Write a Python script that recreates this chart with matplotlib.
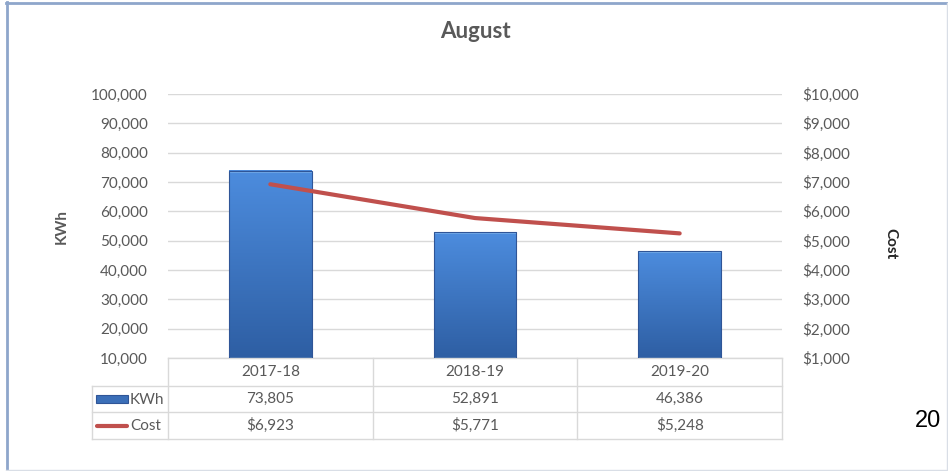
import numpy as np
import matplotlib.pyplot as plt
from matplotlib.patches import Rectangle
from matplotlib.lines import Line2D
from matplotlib.transforms import blended_transform_factory

# data
years = ["2017-18", "2018-19", "2019-20"]
kwh = [73805, 52891, 46386]
cost = [6923, 5771, 5248]

plt.rcParams['font.family'] = ['Lato', 'DejaVu Sans']
grey = "#595959"
grid_c = "#D9D9D9"
fs = 11

W, H = 948, 471
fig = plt.figure(figsize=(W / 100, H / 100), dpi=100)

def fx(px):
    return px / W

def fy(py):
    return 1 - py / H

ax = fig.add_axes([fx(168), fy(358), fx(782) - fx(168), fy(94) - fy(358)])
x = np.arange(len(years))
ax.set_xlim(-0.5, 2.5)
ax.set_ylim(10000, 100000)
ymin = ax.get_ylim()[0]

# bars with a vertical gradient
bars = ax.bar(x, kwh, width=0.405, facecolor="none", edgecolor="#2F5597",
              linewidth=0.8, zorder=3)
grad = np.linspace(0, 1, 100).reshape(-1, 1)
top_c = np.array([0.30, 0.55, 0.87])
bot_c = np.array([0.18, 0.37, 0.64])
img = (top_c * (1 - grad) + bot_c * grad).reshape(100, 1, 3)
for b in bars:
    x0 = b.get_x()
    x1 = x0 + b.get_width()
    ax.imshow(img, extent=[x0, x1, ymin, b.get_height()], origin="upper",
              aspect="auto", zorder=2)
    # light bevel at the top
    ax.add_patch(Rectangle((x0, b.get_height() - 700), b.get_width(), 700,
                           facecolor="#6FA8E8", edgecolor="none", zorder=2.5))

ax.set_xlim(-0.5, 2.5)
ax.set_ylim(10000, 100000)
ax.set_yticks(np.arange(10000, 100001, 10000))
ax.set_yticklabels([f"{v:,}" for v in range(10000, 100001, 10000)])
ax.set_xticks([])
ax.grid(axis="y", color=grid_c, linewidth=1, zorder=0)
ax.tick_params(axis="y", length=0, pad=14.5, labelsize=fs, labelcolor=grey)
for s in ax.spines.values():
    s.set_visible(False)

ax2 = ax.twinx()
ax2.plot(x, cost, color="#C0504D", linewidth=3, solid_capstyle="round", zorder=4)
ax2.set_ylim(1000, 10000)
ax2.set_yticks(np.arange(1000, 10001, 1000))
ax2.set_yticklabels([f"${v:,}" for v in range(1000, 10001, 1000)])
ax2.tick_params(axis="y", length=0, pad=14.5, labelsize=fs, labelcolor=grey)
for s in ax2.spines.values():
    s.set_visible(False)
ax2.set_xlim(-0.5, 2.5)

# data table under the plot
tr = blended_transform_factory(ax.transData, ax.transAxes)
ah = 358 - 94
rows_y = [0, -28 / ah, -54 / ah, -81 / ah]
lab_left = -0.5 - 76 / 205
for yy in rows_y:
    left = -0.5 if yy == 0 else lab_left
    ax.add_line(Line2D([left, 2.5], [yy, yy], transform=tr, color=grid_c,
                       linewidth=1, clip_on=False))
for xx in [-0.5, 0.5, 1.5, 2.5]:
    ax.add_line(Line2D([xx, xx], [0, rows_y[-1]], transform=tr, color=grid_c,
                       linewidth=1, clip_on=False))
ax.add_line(Line2D([lab_left, lab_left], [rows_y[1], rows_y[-1]], transform=tr,
                   color=grid_c, linewidth=1, clip_on=False))

def mid(i):
    return (rows_y[i] + rows_y[i + 1]) / 2

for i, yr in enumerate(years):
    ax.text(x[i], mid(0), yr, transform=tr, ha="center", va="center",
            fontsize=fs, color=grey)
    ax.text(x[i], mid(1), f"{kwh[i]:,}", transform=tr, ha="center",
            va="center", fontsize=fs, color=grey)
    ax.text(x[i], mid(2), f"${cost[i]:,}", transform=tr, ha="center",
            va="center", fontsize=fs, color=grey)

# legend keys in the label column
fig.patches.append(Rectangle((fx(96), fy(403)), fx(128) - fx(96), fy(395) - fy(403),
                             transform=fig.transFigure, facecolor="#3B6FB8",
                             edgecolor="#2F5597", linewidth=0.8))
fig.lines.append(Line2D([fx(97), fx(127)], [fy(426), fy(426)],
                        transform=fig.transFigure, color="#C0504D",
                        linewidth=3, solid_capstyle="round"))
fig.text(fx(130), fy(399.5), "KWh", ha="left", va="center", fontsize=fs, color=grey)
fig.text(fx(130), fy(425.5), "Cost", ha="left", va="center", fontsize=fs, color=grey)

# titles / axis labels
fig.text(0.5 * (fx(168) + fx(782)), fy(32), "August", ha="center", va="center",
         fontsize=16, fontweight="bold", color=grey)
fig.text(fx(62), fy(226), "KWh", rotation=90, ha="center", va="center",
         fontsize=fs, fontweight="bold", color=grey)
fig.text(fx(890), fy(244), "Cost", rotation=-90, ha="center", va="center",
         fontsize=fs, fontweight="bold", color="#262626")

# page number
fig.text(fx(928), fy(421), "20", ha="center", va="center", fontsize=17,
         family="Liberation Sans", color="black")

# frame
fig.lines.append(Line2D([fx(6), fx(946.5)], [fy(2.5), fy(2.5)], transform=fig.transFigure,
                        color="#8EA6CB", linewidth=2))
fig.lines.append(Line2D([fx(6.5), fx(6.5)], [fy(2), fy(469.5)], transform=fig.transFigure,
                        color="#8EA6CB", linewidth=2))
fig.lines.append(Line2D([fx(946.5), fx(946.5)], [fy(3), fy(469.5)], transform=fig.transFigure,
                        color="#D9DEE6", linewidth=1))
fig.lines.append(Line2D([fx(6), fx(946.5)], [fy(469.5), fy(469.5)], transform=fig.transFigure,
                        color="#D9DEE6", linewidth=1))

fig.savefig("out.png", dpi=100)
